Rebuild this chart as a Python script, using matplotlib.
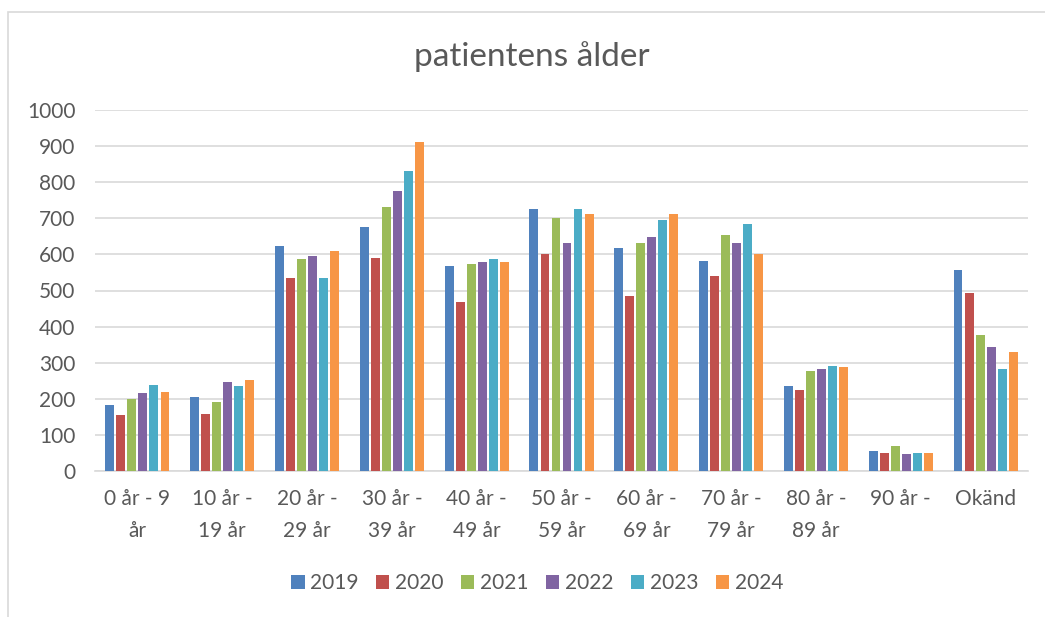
import numpy as np
import matplotlib
matplotlib.use("Agg")
import matplotlib.pyplot as plt
from matplotlib.patches import Rectangle

# ============================================================
# DATA
# ============================================================
categories = ["0 år - 9\når", "10 år -\n19 år", "20 år -\n29 år", "30 år -\n39 år",
              "40 år -\n49 år", "50 år -\n59 år", "60 år -\n69 år", "70 år -\n79 år",
              "80 år -\n89 år", "90 år -", "Okänd"]
years = ["2019", "2020", "2021", "2022", "2023", "2024"]

v2019 = [183, 205, 622, 677, 567, 726, 619, 581, 235, 55, 558]
v2020 = [156, 158, 534, 591, 469, 600, 485, 539, 223, 49, 493]
v2021 = [199, 191, 588, 731, 573, 700, 632, 655, 276, 69, 377]
v2022 = [216, 246, 595, 775, 579, 632, 649, 631, 282, 46, 343]
v2023 = [238, 235, 536, 832, 587, 727, 694, 684, 290, 49, 282]
v2024 = [219, 252, 609, 912, 578, 712, 712, 600, 287, 49, 329]
series = [v2019, v2020, v2021, v2022, v2023, v2024]

colors = ["#4F81BD", "#C0504D", "#9BBB59", "#8064A2", "#4BACC6", "#F79646"]

# ============================================================
# PLOT
# ============================================================
plt.rcParams["font.family"] = ["Lato", "DejaVu Sans"]
text_col = "#595959"

fig = plt.figure(figsize=(10.45, 6.17), dpi=100)
ax = fig.add_axes([95 / 1045, 1 - 471 / 617, (1028 - 95) / 1045, (471 - 110) / 617])

# chart border (faint)
fig.patches.append(Rectangle((8 / 1045, -0.05), 1.1, 1 - 12 / 617 + 0.05,
                             transform=fig.transFigure, fill=False,
                             edgecolor="#d9d9d9", linewidth=1.2))

x = np.arange(len(categories))
step = 0.13
width = 0.105
for i, (vals, yr) in enumerate(zip(series, years)):
    ax.bar(x + (i - 2.5) * step, vals, width, color=colors[i], label=yr, zorder=3)

ax.set_xlim(-0.5, len(categories) - 0.5)
ax.set_ylim(0, 1000)
ax.set_yticks(range(0, 1001, 100))
ax.yaxis.grid(True, color="#d9d9d9", linewidth=1.2, zorder=0)
ax.set_axisbelow(True)
for s in ["top", "right", "left"]:
    ax.spines[s].set_visible(False)
ax.spines["bottom"].set_color("#d9d9d9")
ax.spines["bottom"].set_linewidth(1.2)

ax.set_xticks(x)
ax.set_xticklabels(categories, fontsize=15, color=text_col, linespacing=1.75)
ax.tick_params(axis="x", length=0, pad=13)
ax.tick_params(axis="y", length=0, pad=14, labelsize=15, labelcolor=text_col)

fig.text(532 / 1045, 1 - 57 / 617, "patientens ålder", ha="center", va="center",
         fontsize=24, color=text_col)

leg = fig.legend(loc="center", bbox_to_anchor=(537 / 1045, 1 - 583 / 617), ncol=6,
                 frameon=False, fontsize=15, handlelength=0.65, handleheight=0.65,
                 handletextpad=0.25, columnspacing=0.85)
for t in leg.get_texts():
    t.set_color(text_col)

plt.savefig("out.png", dpi=100)
